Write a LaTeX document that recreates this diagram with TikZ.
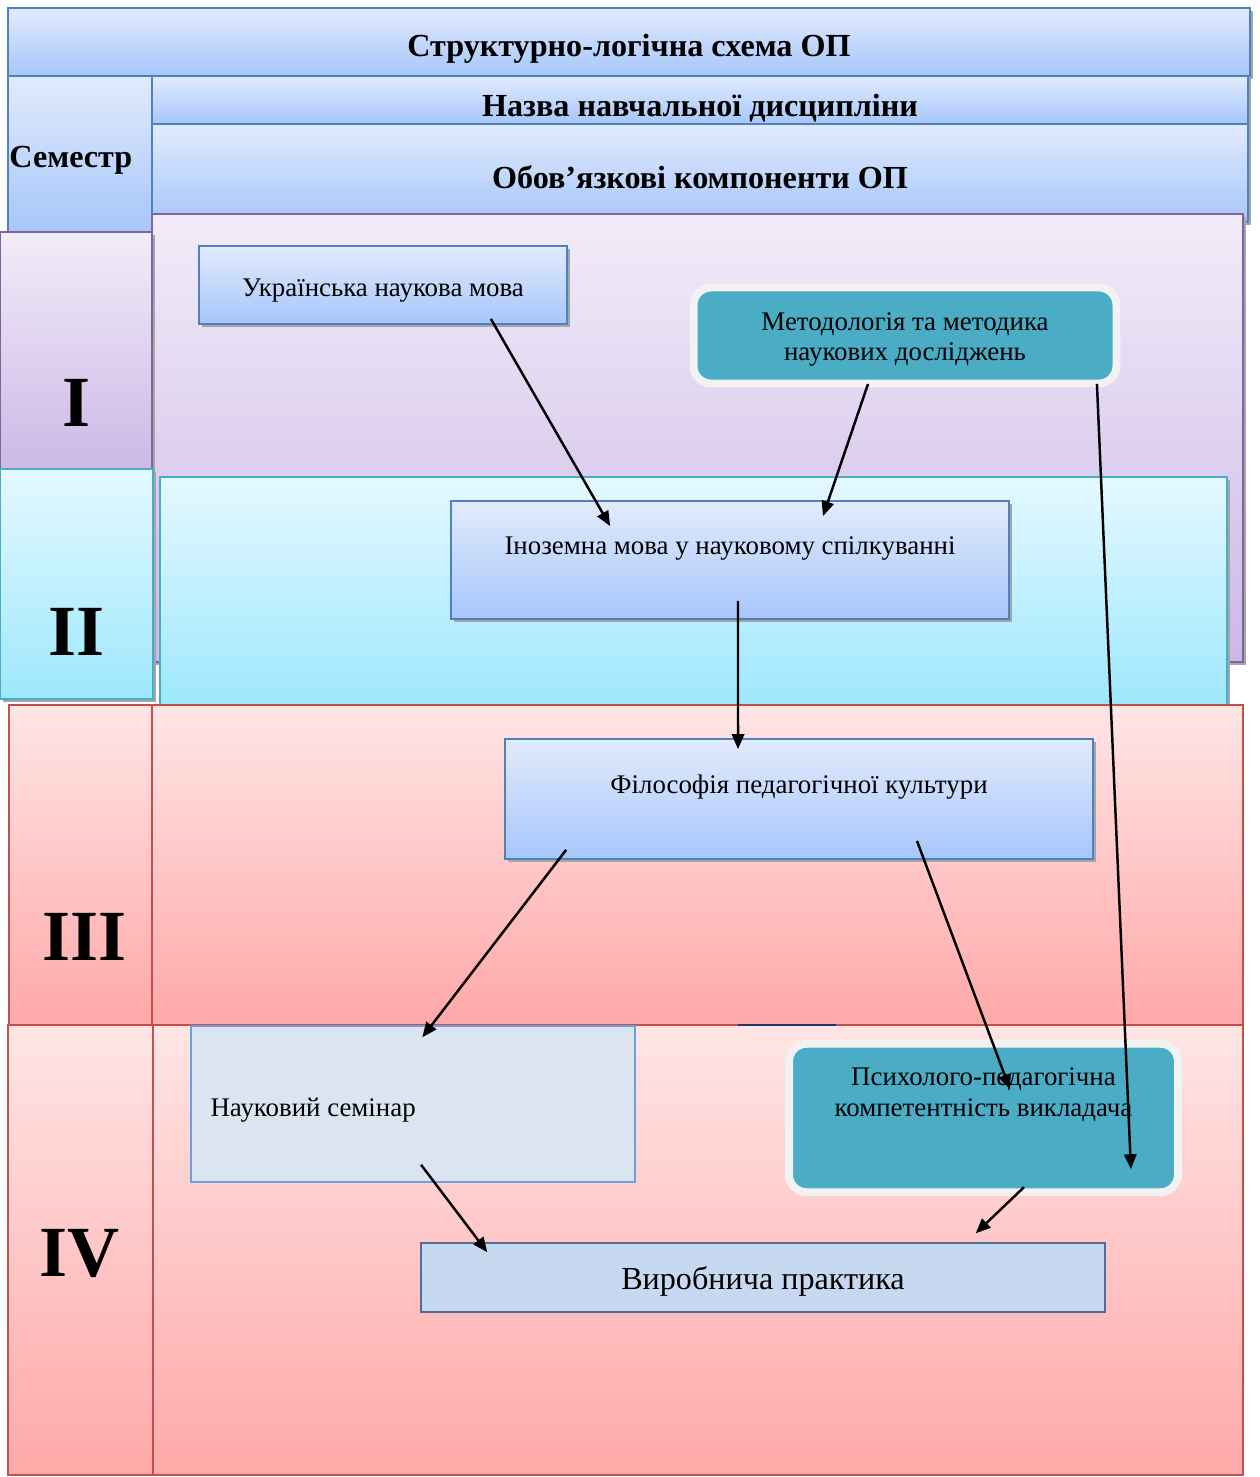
\documentclass[tikz,border=0pt]{standalone}
\usepackage{fontspec}
\setmainfont{Liberation Serif}
\usetikzlibrary{arrows.meta,shadows}

\definecolor{hdrtop}{RGB}{226,235,253}
\definecolor{hdrbot}{RGB}{166,198,250}
\definecolor{hdrline}{RGB}{79,129,189}
\definecolor{violtop}{RGB}{242,236,249}
\definecolor{violbot}{RGB}{204,184,230}
\definecolor{violline}{RGB}{128,100,162}
\definecolor{cyantop}{RGB}{228,248,255}
\definecolor{cyanbot}{RGB}{158,232,252}
\definecolor{cyanline}{RGB}{75,172,198}
\definecolor{rosetop}{RGB}{255,229,229}
\definecolor{rosebot}{RGB}{255,168,168}
\definecolor{roseline}{RGB}{192,80,77}
\definecolor{tealc}{RGB}{75,172,198}
\definecolor{rimgray}{RGB}{242,242,242}
\definecolor{semfill}{RGB}{219,229,241}
\definecolor{semline}{RGB}{110,160,215}
\definecolor{vyrfill}{RGB}{198,217,240}
\definecolor{vyrline}{RGB}{80,110,150}
\definecolor{navyc}{RGB}{31,56,100}

\begin{document}
\begin{tikzpicture}[x=0.02cm,y=-0.02cm,>={Triangle[length=8.5pt,width=7pt]}]
        \tikzstyle{shade}=[drop shadow={shadow xshift=1.5pt,shadow yshift=-1.5pt,fill=gray!70,opacity=1}]
        \tikzstyle{hdr}=[rectangle,draw=hdrline,line width=1pt,top color=hdrtop,bottom color=hdrbot,inner sep=0pt,shade]
        \tikzstyle{hdrtxt}=[font=\fontsize{18.3}{22}\selectfont\bfseries]
        \tikzstyle{cell}=[rectangle,line width=1pt,inner sep=0pt]
        \tikzstyle{semone}=[cell,draw=violline,top color=violtop,bottom color=violbot,shade]
        \tikzstyle{semtwo}=[cell,draw=cyanline,top color=cyantop,bottom color=cyanbot,shade]
        \tikzstyle{semthree}=[cell,draw=roseline,top color=rosetop,bottom color=rosebot]
        \tikzstyle{roman}=[font=\fontsize{41}{45}\selectfont\bfseries]
        \tikzstyle{course}=[rectangle,draw=hdrline,line width=1pt,top color=hdrtop,bottom color=hdrbot,inner sep=0pt,shade]
        \tikzstyle{tealbox}=[rectangle,rounded corners=10pt,draw=rimgray,line width=4.5pt,fill=tealc,inner sep=0pt,shade]
        \tikzstyle{txt}=[font=\fontsize{15.3}{17.5}\selectfont,align=center]
        \tikzstyle{flow}=[->,line width=1.4pt]

        \useasboundingbox (0,0) rectangle (1259,1477);

        % header
        \node [hdr,minimum width=24.84cm,minimum height=1.36cm] (title) at (629,42) {};
        \node [hdrtxt] (titlet) at ([yshift=-0.14cm]title.center) {Структурно-логічна схема ОП};
        \node [hdr,minimum width=2.88cm,minimum height=3.12cm] (semestr) at (80,154) {};
        \node [hdrtxt,anchor=west,inner sep=0pt] (semestrt) at ([xshift=0.04cm,yshift=-0.12cm]semestr.west) {Семестр};
        \node [hdr,minimum width=21.92cm,minimum height=0.96cm] (nazva) at (700,100) {};
        \node [hdrtxt] (nazvat) at ([yshift=-0.16cm]nazva.center) {Назва навчальної дисципліни};
        \node [hdr,minimum width=21.92cm,minimum height=1.96cm] (obov) at (700,173) {};
        \node [hdrtxt] (obovt) at ([yshift=-0.08cm]obov.center) {Обов’язкові компоненти ОП};

        % semesters
        \node [semone,minimum width=21.82cm,minimum height=8.96cm] (areaI) at (697.5,438) {};
        \node [semone,minimum width=3.04cm,minimum height=4.76cm] (cellI) at (76,351) {};
        \node [roman] (numI) at (77,403) {I};
        \node [semtwo,minimum width=3.06cm,minimum height=4.6cm] (cellII) at (76.5,584) {};
        \node [roman] (numII) at (77,632) {II};
        \node [semtwo,minimum width=21.34cm,minimum height=4.56cm] (areaII) at (693.5,591) {};
        \node [semthree,minimum width=2.86cm,minimum height=6.4cm] (cellIII) at (80.5,865) {};
        \node [roman] (numIII) at (85,937) {III};
        \node [semthree,minimum width=21.82cm,minimum height=6.4cm] (areaIII) at (697.5,865) {};
        \node [semthree,minimum width=2.9cm,minimum height=9cm] (cellIV) at (80.5,1250) {};
        \node [roman] (numIV) at (80,1253) {IV};
        \node [semthree,minimum width=21.8cm,minimum height=9cm] (areaIV) at (698,1250) {};
        \draw [navyc,line width=1.5pt] (738,1025) -- (836,1025);

        % courses
        \node [course,minimum width=7.36cm,minimum height=1.56cm] (ukr) at (383,285) {};
        \node [txt] (ukrt) at ([yshift=-0.12cm]ukr.center) {Українська наукова мова};
        \node [tealbox,minimum width=8.46cm,minimum height=1.92cm] (meth) at (905,335.5) {};
        \node [txt] (metht) at ([yshift=-0.08cm]meth.center) {Методологія та методика\\наукових досліджень};
        \node [course,minimum width=11.16cm,minimum height=2.36cm] (inoz) at (730,560) {};
        \node [txt] (inozt) at ([yshift=-0.96cm]inoz.north) {Іноземна мова у науковому спілкуванні};
        \node [course,minimum width=11.76cm,minimum height=2.4cm] (fil) at (799,799) {};
        \node [txt] (filt) at ([yshift=-0.98cm]fil.north) {Філософія педагогічної культури};
        \node [rectangle,draw=semline,line width=0.8pt,fill=semfill,minimum width=8.88cm,minimum height=3.12cm] (sem) at (413,1104) {};
        \node [txt,anchor=west] (semt) at ([xshift=0.28cm,yshift=-0.12cm]sem.west) {Науковий семінар};
        \node [tealbox,minimum width=7.78cm,minimum height=2.97cm] (psy) at (983.5,1118) {};
        \node [txt] (psyt) at ([yshift=-1.1cm]psy.north) {Психолого-педагогічна\\компетентність викладача};
        \node [rectangle,draw=vyrline,line width=0.8pt,fill=vyrfill,minimum width=13.68cm,minimum height=1.38cm] (vyr) at (763,1277.5) {};
        \node [font=\fontsize{18.3}{22}\selectfont] (vyrt) at ([yshift=-0.08cm]vyr.center) {Виробнича практика};

        % links
        \draw [flow] ([xshift=-1.54cm,yshift=0.12cm]ukr.south east) -- ([xshift=3.2cm,yshift=-0.52cm]inoz.north west);
        \draw [flow] ([xshift=-0.74cm,yshift=0.07cm]meth.south) -- ([xshift=1.86cm,yshift=-0.32cm]inoz.north);
        \draw [flow] ([xshift=0.16cm,yshift=0.38cm]inoz.south) -- ([xshift=-1.22cm,yshift=-0.22cm]fil.north);
        \draw [flow] ([xshift=-0.47cm,yshift=0.07cm]meth.south east) -- ([xshift=-1.02cm,yshift=0.54cm]psy.south east);
        \draw [flow] ([xshift=1.24cm,yshift=0.2cm]fil.south west) -- ([xshift=4.64cm,yshift=-0.24cm]sem.north west);
        \draw [flow] ([xshift=2.36cm,yshift=0.38cm]fil.south) -- ([xshift=0.53cm,yshift=-0.99cm]psy.north);
        \draw [flow] ([xshift=0.16cm,yshift=0.36cm]sem.south) -- ([xshift=1.34cm,yshift=-0.2cm]vyr.north west);
        \draw [flow] ([xshift=0.81cm,yshift=0.18cm]psy.south) -- ([xshift=-2.6cm,yshift=0.18cm]vyr.north east);
\end{tikzpicture}
\end{document}
